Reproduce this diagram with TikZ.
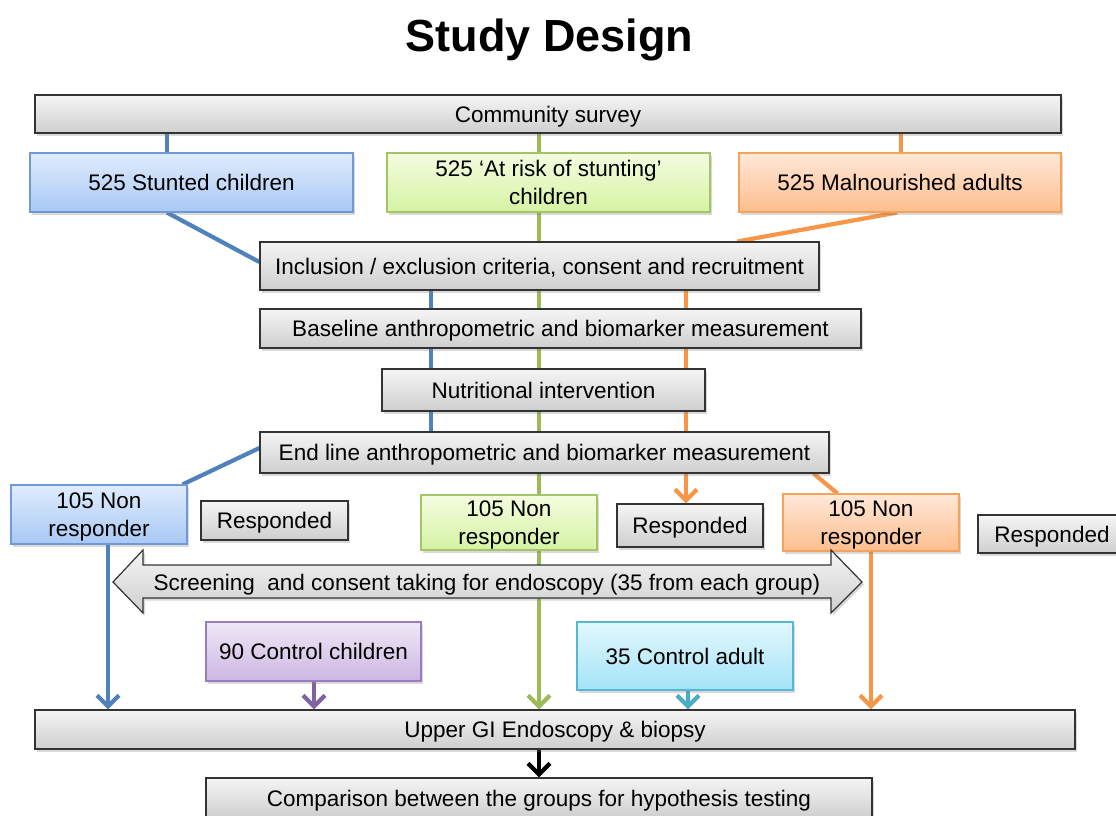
\documentclass[tikz,border=0pt]{standalone}
\usepackage{fontspec}
\setmainfont{Liberation Sans}
\usetikzlibrary{arrows.meta,shadows,calc}
\pgfdeclarelayer{background}
\pgfsetlayers{background,main}
\definecolor{cblue}{HTML}{4F81BD}
\definecolor{cgreen}{HTML}{9BBB59}
\definecolor{corange}{HTML}{F79646}
\definecolor{cpurple}{HTML}{8064A2}
\definecolor{ccyan}{HTML}{4BACC6}
\definecolor{btop}{HTML}{E0ECFC}\definecolor{bbot}{HTML}{A8C8F5}\definecolor{bbord}{HTML}{6F9AD6}
\definecolor{gtop}{HTML}{F4FCE0}\definecolor{gbot}{HTML}{D5F3A3}\definecolor{gbord}{HTML}{A4C468}
\definecolor{otop}{HTML}{FFE8D8}\definecolor{obot}{HTML}{FCBE8E}\definecolor{obord}{HTML}{F6A35A}
\definecolor{ptop}{HTML}{EFE8F6}\definecolor{pbot}{HTML}{CDB6E3}\definecolor{pbord}{HTML}{9A7DC0}
\definecolor{ctop}{HTML}{E2F8FE}\definecolor{cbot}{HTML}{A4E3F7}\definecolor{cbord}{HTML}{55B6D6}
\tikzset{
  shad/.style={drop shadow={shadow xshift=2pt,shadow yshift=-2.5pt,opacity=0.3}},
  box/.style={rectangle, inner sep=0pt, align=center, shad, text depth=0pt,
    font=\fontsize{22.5}{27.5}\selectfont},
  graybox/.style={box, draw=black!80, line width=1.2pt, top color=gray!8, bottom color=gray!38},
  bluebox/.style={box, draw=bbord, line width=1.1pt, top color=btop, bottom color=bbot},
  greenbox/.style={box, draw=gbord, line width=1.1pt, top color=gtop, bottom color=gbot},
  orangebox/.style={box, draw=obord, line width=1.1pt, top color=otop, bottom color=obot},
  purplebox/.style={box, draw=pbord, line width=1.1pt, top color=ptop, bottom color=pbot},
  cyanbox/.style={box, draw=cbord, line width=1.1pt, top color=ctop, bottom color=cbot},
  link/.style={line width=4.2pt},
  arr/.style={line width=4.2pt, -{Straight Barb[length=11pt,width=22pt]}},
}
\begin{document}
\begin{tikzpicture}[x=1pt,y=-1pt]
\clip (0,0) rectangle (1116,815);
\node[font=\fontsize{45}{50}\selectfont\bfseries] (title) at (549.5,40) {Study Design};

\node[graybox, minimum width=1026pt, minimum height=38pt] (survey) at (548,114) {Community survey};
\node[bluebox, minimum width=323pt, minimum height=59pt] (blue525) at (191.5,182.5) {525 Stunted children};
\node[greenbox, minimum width=323pt, minimum height=59pt] (green525) at (548.5,182.5) {525 `At risk of stunting'\\children};
\node[orangebox, minimum width=322pt, minimum height=59pt] (orange525) at (900,182.5) {525 Malnourished adults};
\node[graybox, minimum width=559pt, minimum height=48pt] (incl) at (539.5,266) {Inclusion / exclusion criteria, consent and recruitment};
\node[graybox, minimum width=601pt, minimum height=39pt] (base) at (560.5,328.5) {Baseline anthropometric and biomarker measurement};
\node[graybox, minimum width=323pt, minimum height=42pt] (nutr) at (543.5,390) {Nutritional intervention};
\node[graybox, minimum width=569pt, minimum height=41pt] (endl) at (544.5,452.5) {End line anthropometric and biomarker measurement};
\node[bluebox, minimum width=176pt, minimum height=59pt] (bnr) at (99,514.5) {105 Non\\responder};
\node[graybox, minimum width=147pt, minimum height=39pt] (resp1) at (274.5,520.5) {Responded};
\node[greenbox, minimum width=176pt, minimum height=55pt] (gnr) at (509,522.5) {105 Non\\responder};
\node[graybox, minimum width=146pt, minimum height=43pt] (resp2) at (690,525.5) {Responded};
\node[orangebox, minimum width=176pt, minimum height=57pt] (onr) at (871,522.5) {105 Non\\responder};
\node[graybox, minimum width=148pt, minimum height=38pt] (resp3) at (1052,534) {Responded};

% double arrow
\path[draw=black!80, line width=1.2pt, top color=gray!8, bottom color=gray!38, shad]
  (113,582) -- (143,550) -- (143,565) -- (831,565) -- (831,550) -- (862,582)
  -- (831,613) -- (831,598) -- (143,598) -- (143,613) -- cycle;
\node[font=\fontsize{22.5}{25}\selectfont, text depth=0pt] (scr) at (487,582) {Screening~ and consent taking for endoscopy (35 from each group)};

\node[purplebox, minimum width=215pt, minimum height=59pt] (purple) at (313.5,651.5) {90 Control children};
\node[cyanbox, minimum width=216pt, minimum height=68pt] (cyan) at (685,656) {35 Control adult};
\node[graybox, minimum width=1040pt, minimum height=39pt] (ugi) at (555,729.5) {Upper GI Endoscopy \& biopsy};
\node[graybox, minimum width=666pt, minimum height=40pt] (comp) at (539,798) {Comparison between the groups for hypothesis testing};

\coordinate (xb1) at (167,0);
\coordinate (xg) at (539,0);
\coordinate (xo1) at (901,0);
\coordinate (xb2) at (431,0);
\coordinate (xo2) at (686,0);
\coordinate (xb3) at (108,0);
\coordinate (xo3) at (871,0);
\coordinate (xp) at (314,0);
\coordinate (xc) at (688,0);

\begin{pgfonlayer}{background}
  % blue
  \draw[link,cblue] (survey.south -| xb1) -- (blue525.north -| xb1);
  \draw[link,cblue] (blue525.south -| xb1) -- ([yshift=4pt]incl.west);
  \draw[link,cblue] (incl.south -| xb2) -- (endl.north -| xb2);
  \draw[link,cblue] ([yshift=4.5pt]endl.west) -- ([xshift=-5pt]bnr.north east);
  \draw[arr,cblue] (bnr.south -| xb3) -- (ugi.north -| xb3);
  % green
  \draw[arr,cgreen] (survey.south -| xg) -- (ugi.north -| xg);
  % orange
  \draw[link,corange] (survey.south -| xo1) -- (orange525.north -| xo1);
  \draw[link,corange] ([xshift=-3pt]orange525.south) -- ([xshift=-82pt]incl.north east);
  \draw[link,corange] (incl.south -| xo2) -- (endl.north -| xo2);
  \draw[arr,corange] (endl.south -| xo2) -- (resp2.north -| xo2);
  \draw[link,corange] ([xshift=-16pt]endl.south east) -- ([xshift=55pt]onr.north west);
  \draw[arr,corange] (onr.south -| xo3) -- (ugi.north -| xo3);
  % controls
  \draw[arr,cpurple] (purple.south -| xp) -- (ugi.north -| xp);
  \draw[arr,ccyan] (cyan.south -| xc) -- (ugi.north -| xc);
  % final
  \draw[arr,black] (ugi.south -| xg) -- (comp.north -| xg);
\end{pgfonlayer}
\end{tikzpicture}
\end{document}
